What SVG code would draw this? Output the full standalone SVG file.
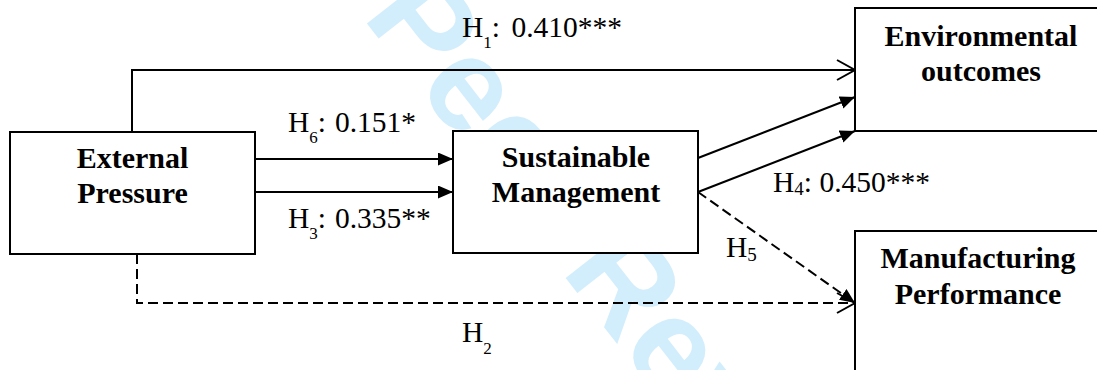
<svg xmlns="http://www.w3.org/2000/svg" width="1097" height="370" viewBox="0 0 1097 370">
  <style>
    .box { fill: #ffffff; stroke: #000000; stroke-width: 2; }
    .name { font-family: "Liberation Serif", "Times New Roman", serif; font-weight: bold; font-size: 30px; text-anchor: middle; fill: #000000; }
    .lbl { font-family: "Liberation Serif", "Times New Roman", serif; font-size: 29.5px; fill: #000000; }
    .sub { font-size: 17px; }
    .sub2 { font-size: 19px; }
    .link { fill: none; stroke: #000000; stroke-width: 2; }
    .dash { stroke-dasharray: 10 5; }
    .mark { font-family: "Liberation Sans", Arial, sans-serif; font-weight: bold; font-size: 132px; fill: #d2eefc; }
  </style>
  <defs>
    <marker id="solid" markerUnits="userSpaceOnUse" markerWidth="16" markerHeight="14" refX="15" refY="6.5" orient="auto">
      <path d="M0,0 L15,6.5 L0,13 Z" fill="#000000" stroke="none"/>
    </marker>
    <marker id="open" markerUnits="userSpaceOnUse" markerWidth="22" markerHeight="24" refX="19" refY="11" orient="auto">
      <path d="M1,1 L19,11 L1,21" fill="none" stroke="#000000" stroke-width="2"/>
    </marker>
  </defs>

  <rect width="1097" height="370" fill="#ffffff"/>

  <!-- background watermark -->
  <g id="watermark">
    <text class="mark" transform="translate(208,-180) rotate(52)">For Peer Review</text>
  </g>

  <!-- paths between constructs -->
  <g id="connectors">
    <path class="link" d="M132,132 V70 H855" marker-end="url(#open)"/>
    <path class="link" d="M255,159 H453" marker-end="url(#solid)"/>
    <path class="link" d="M255,192 H453" marker-end="url(#solid)"/>
    <path class="link" d="M698,158 L855,97" marker-end="url(#solid)"/>
    <path class="link" d="M698,192 L855,131" marker-end="url(#solid)"/>
    <path class="link dash" d="M698,192 L855,303" marker-end="url(#solid)"/>
    <path class="link dash" d="M137,254 V303 H855" marker-end="url(#open)"/>
  </g>

  <g id="external-pressure">
    <rect class="box" x="10" y="132" width="245" height="122"/>
    <text class="name" x="132.5" y="168">External</text>
    <text class="name" x="132.5" y="203">Pressure</text>
  </g>

  <g id="sustainable-management">
    <rect class="box" x="453" y="131" width="245" height="122"/>
    <text class="name" x="576" y="167">Sustainable</text>
    <text class="name" x="576" y="202">Management</text>
  </g>

  <g id="environmental-outcomes">
    <rect class="box" x="855" y="8" width="260" height="123"/>
    <text class="name" x="981" y="46">Environmental</text>
    <text class="name" x="981" y="81">outcomes</text>
  </g>

  <g id="manufacturing-performance">
    <rect class="box" x="855" y="231" width="260" height="160"/>
    <text class="name" x="978" y="268">Manufacturing</text>
    <text class="name" x="978" y="304">Performance</text>
  </g>

  <!-- path coefficients -->
  <g id="labels">
    <text class="lbl" x="462" y="37">H<tspan class="sub" dy="11">1</tspan><tspan dy="-11">:</tspan><tspan dx="4"> 0.410***</tspan></text>
    <text class="lbl" x="288" y="132">H<tspan class="sub" dy="11">6</tspan><tspan dy="-11">:</tspan><tspan dx="1.5"> 0.151*</tspan></text>
    <text class="lbl" x="288" y="228">H<tspan class="sub" dy="11">3</tspan><tspan dy="-11">:</tspan><tspan dx="1.5"> 0.335**</tspan></text>
    <text class="lbl" x="773" y="192">H<tspan class="sub2" dy="3">4</tspan><tspan dy="-3">: 0.450***</tspan></text>
    <text class="lbl" x="726" y="257">H<tspan class="sub2" dy="4">5</tspan></text>
    <text class="lbl" x="462" y="342">H<tspan class="sub" dy="12" font-size="18">2</tspan></text>
  </g>
</svg>
